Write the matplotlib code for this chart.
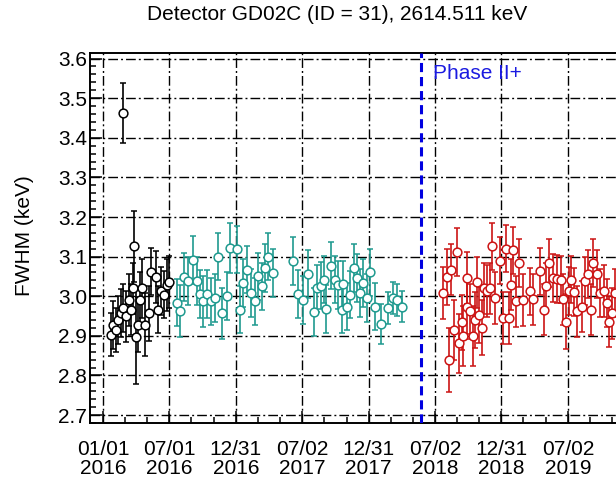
import numpy as np
import matplotlib
matplotlib.use("Agg")
import matplotlib.pyplot as plt
import matplotlib.dates as mdates
from matplotlib.ticker import FixedLocator, MultipleLocator, AutoMinorLocator

plt.rcParams['font.family'] = ['Liberation Sans', 'DejaVu Sans']

TITLE = "Detector GD02C (ID = 31), 2614.511 keV"
YLABEL = "FWHM (keV)"
PHASE_LABEL = "Phase II+"
EPOCH = "2016-01-01"          # calibration day numbers count from here
PHASE_DAY = 873               # start of Phase II+

# --- calibration runs: day number, FWHM (keV), uncertainty (keV) ---
black_day = [22, 28, 35, 42, 49, 54, 56, 62, 70, 76, 81, 86, 90, 95, 102,
             108, 114, 125, 132, 145, 152, 159, 168, 175, 181]
black_fwhm = [2.903, 2.928, 2.915, 2.940, 2.957, 3.462, 2.970, 2.949, 2.990,
              2.966, 3.020, 3.126, 2.898, 2.928, 2.990, 3.020, 2.928, 2.957,
              3.062, 3.048, 2.966, 3.013, 3.004, 3.028, 3.036]
black_err = [0.055, 0.060, 0.055, 0.060, 0.060, 0.076, 0.060, 0.065, 0.065,
             0.065, 0.065, 0.090, 0.120, 0.070, 0.070, 0.075, 0.080, 0.070,
             0.060, 0.065, 0.060, 0.060, 0.060, 0.065, 0.065]

teal_day = [203, 212, 223, 234, 247, 258, 267, 276, 285, 296, 308, 317, 326,
            340, 349, 368, 377, 386, 397, 406, 418, 427, 436, 445, 454, 468,
            523, 535, 551, 564, 580, 589, 598, 607, 612, 627, 638, 647, 656,
            661, 670, 679, 690, 699, 706, 716, 725, 734, 748, 764, 784, 798,
            809, 823]
teal_fwhm = [2.984, 2.963, 3.048, 3.038, 3.092, 3.038, 3.005, 2.987, 3.005,
             2.987, 2.995, 3.100, 2.957, 3.000, 3.122, 3.118, 2.966, 3.033,
             3.067, 3.008, 2.987, 3.050, 3.025, 3.071, 3.100, 3.059, 3.089,
             3.006, 2.990, 3.056, 2.960, 3.020, 3.027, 3.042, 2.968, 3.077,
             3.042, 3.029, 2.966, 3.030, 2.974, 3.004, 3.071, 3.046, 3.008,
             3.033, 2.995, 3.060, 2.974, 2.930, 2.970, 2.995, 2.991, 2.974]
teal_err = [0.060, 0.065, 0.060, 0.060, 0.060, 0.060, 0.060, 0.065, 0.060,
            0.060, 0.060, 0.060, 0.065, 0.060, 0.063, 0.060, 0.060, 0.060,
            0.060, 0.060, 0.060, 0.060, 0.060, 0.060, 0.060, 0.060, 0.060,
            0.060, 0.060, 0.060, 0.060, 0.060, 0.060, 0.060, 0.060, 0.060,
            0.060, 0.060, 0.060, 0.060, 0.060, 0.060, 0.060, 0.060, 0.060,
            0.060, 0.060, 0.060, 0.060, 0.050, 0.040, 0.040, 0.040, 0.040]

red_day = [934, 945, 952, 958, 965, 972, 979, 986, 990, 1000, 1002, 1009,
           1016, 1023, 1029, 1034, 1041, 1048, 1055, 1064, 1070, 1078, 1091,
           1099, 1108, 1117, 1123, 1128, 1135, 1144, 1155, 1174, 1183, 1201,
           1212, 1218, 1227, 1238, 1249, 1258, 1264, 1273, 1282, 1288, 1295,
           1304, 1316, 1325, 1334, 1341, 1348, 1357, 1366, 1377, 1386, 1392,
           1400, 1407]
red_fwhm = [3.008, 3.049, 2.839, 3.067, 2.915, 3.111, 2.881, 2.934, 2.900,
            2.974, 3.046, 2.962, 2.900, 2.940, 3.035, 2.953, 2.921, 3.020,
            3.013, 3.020, 3.126, 2.995, 3.090, 2.945, 3.120, 2.945, 3.029,
            3.116, 2.987, 3.084, 2.991, 3.012, 2.992, 3.063, 2.966, 3.025,
            3.084, 3.046, 3.044, 3.042, 2.992, 2.936, 3.013, 3.042, 3.011,
            2.962, 2.974, 3.038, 3.056, 2.966, 3.084, 3.056, 3.008, 3.013,
            2.983, 2.936, 2.957, 3.008]
red_err = [0.065, 0.070, 0.080, 0.065, 0.075, 0.060, 0.075, 0.070, 0.075,
           0.070, 0.065, 0.070, 0.075, 0.070, 0.065, 0.070, 0.070, 0.065,
           0.065, 0.065, 0.060, 0.065, 0.060, 0.065, 0.060, 0.065, 0.065,
           0.060, 0.065, 0.060, 0.065, 0.060, 0.065, 0.060, 0.065, 0.060,
           0.060, 0.060, 0.060, 0.060, 0.065, 0.070, 0.060, 0.060, 0.060,
           0.065, 0.065, 0.060, 0.060, 0.065, 0.060, 0.060, 0.060, 0.065,
           0.060, 0.065, 0.065, 0.060]

tick_dates = ["2016-01-01", "2016-07-01", "2016-12-31", "2017-07-02",
              "2017-12-31", "2018-07-02", "2018-12-31", "2019-07-02"]
tick_labels = ["01/01\n2016", "07/01\n2016", "12/31\n2016", "07/02\n2017",
               "12/31\n2017", "07/02\n2018", "12/31\n2018", "07/02\n2019"]
x_range_days = (-36, 1504)
y_range = (2.68, 3.614)

series_colors = ["#000000", "#1f9a8f", "#cc1414"]
FS = 15


def to_dates(days):
    return np.datetime64(EPOCH) + np.asarray(days).astype("timedelta64[D]")


fig = plt.figure(figsize=(6.16, 4.79), dpi=100)
ax = fig.add_axes([90 / 616, 56 / 479, 560 / 616, 370 / 479])

grid_style = dict(color="black", lw=1.0, ls=(0, (7, 2.2, 1.4, 2.2)), zorder=1)

major_num = mdates.date2num(np.array(tick_dates, dtype="datetime64[D]"))
for xv in major_num:
    ax.axvline(xv, **grid_style)
for yv in np.arange(2.7, 3.61, 0.1):
    ax.axhline(yv, **grid_style)

for days, vals, errs, col in [(black_day, black_fwhm, black_err, series_colors[0]),
                              (teal_day, teal_fwhm, teal_err, series_colors[1]),
                              (red_day, red_fwhm, red_err, series_colors[2])]:
    ax.errorbar(to_dates(days), vals, yerr=errs, fmt="o", color=col,
                mfc="white", mec=col, ms=6.3, mew=1.1, elinewidth=1.2,
                capsize=2.2, capthick=1.2, zorder=3)

ax.axvline(mdates.date2num(to_dates([PHASE_DAY]))[0], color="#0000e0",
           lw=2.2, ls=(0, (3, 1.6)), zorder=4)
ax.text(mdates.date2num(to_dates([PHASE_DAY + 33]))[0], 3.563, PHASE_LABEL,
        color="#1a1ae0", fontsize=FS, ha="left", va="center", zorder=5)

ax.set_xlim(mdates.date2num(to_dates([x_range_days[0]]))[0],
            mdates.date2num(to_dates([x_range_days[1]]))[0])
ax.set_ylim(*y_range)

ax.xaxis.set_major_locator(FixedLocator(major_num))
ax.set_xticklabels(tick_labels, fontsize=FS, linespacing=1.0)
step = np.diff(major_num).mean()
minor_x = np.concatenate([major_num[:-1] + step * k / 3 for k in (1, 2)] +
                         [major_num[-1:] + step * k / 3 for k in (1, 2)])
ax.xaxis.set_minor_locator(FixedLocator(np.sort(minor_x)))

ax.yaxis.set_major_locator(MultipleLocator(0.1))
ax.yaxis.set_minor_locator(AutoMinorLocator(5))
ax.yaxis.set_major_formatter(matplotlib.ticker.FormatStrFormatter("%.1f"))
ax.tick_params(axis="both", which="major", direction="in", length=8.5,
               width=1.1, labelsize=FS)
ax.tick_params(axis="both", which="minor", direction="in", length=4.3,
               width=1.1)
ax.tick_params(axis="x", which="major", pad=12)
ax.tick_params(axis="y", which="major", pad=2)

for sp in ax.spines.values():
    sp.set_linewidth(1.4)
ax.spines["right"].set_visible(False)

fig.text(24.5 / 616, 1 - 236 / 479, YLABEL, rotation=90, fontsize=FS,
         ha="center", va="center")
fig.text(337 / 616, 1 - 15 / 479, TITLE, fontsize=FS, ha="center",
         va="center")

fig.savefig("out.png", dpi=100)
